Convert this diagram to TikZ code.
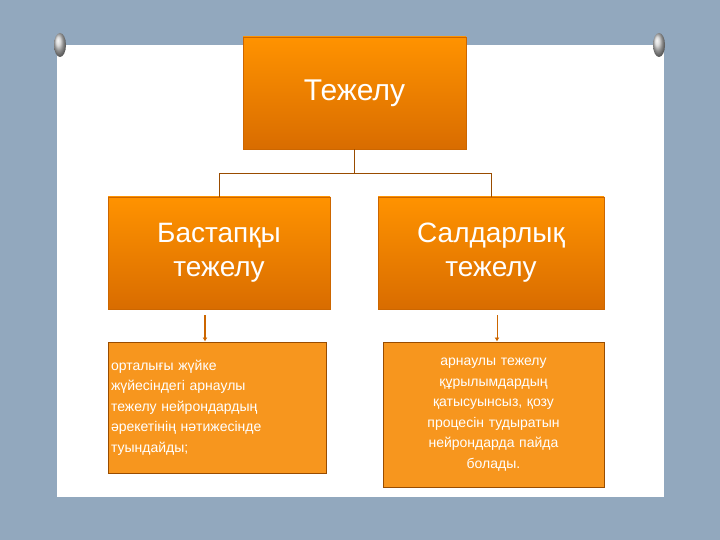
\documentclass[tikz,border=0pt]{standalone}
\usepackage{fontspec}
\setmainfont{Liberation Sans}
\usetikzlibrary{arrows.meta}
\definecolor{bgblue}{RGB}{146,168,190}
\definecolor{boxor}{RGB}{247,150,30}
\begin{document}
\begin{tikzpicture}[x=1pt,y=-1pt,
  obox/.style={draw=orange!80!black,line width=0.6pt,top color=orange!85!yellow,bottom color=orange!85!black,text=white,align=center,inner sep=0pt},
  sbox/.style={draw=orange!60!black,line width=1pt,fill=boxor,text=white,inner sep=0pt,font=\fontsize{14}{20.5}\selectfont},
  conn/.style={draw=orange!60!black,line width=0.6pt},
  arr/.style={draw=orange!80!black,line width=1.8pt,-{Latex[length=4pt,width=5pt]}}]
\useasboundingbox (0,0) rectangle (720,540);
\fill[bgblue] (0,0) rectangle (720,540);
\fill[white] (57,45) rectangle (664,497);
\foreach \px in {60,659}{\shade[ball color=gray!40] (\px,45) ellipse (6 and 12);}
\node[obox,minimum width=223,minimum height=112,font=\fontsize{30}{34}\selectfont] (top) at (354.5,93) {Тежелу};
\node[obox,minimum width=222,minimum height=112,font=\fontsize{28}{34}\selectfont] (l) at (219,253) {Бастапқы\\тежелу};
\node[obox,minimum width=226,minimum height=112,font=\fontsize{28}{34}\selectfont] (r) at (491,253) {Салдарлық\\тежелу};
\coordinate (j) at (354.5,173);
\draw[conn] (top.south) -- (j) -| (l.north);
\draw[conn] (j) -| (r.north);
\node[sbox,minimum width=218,minimum height=131,align=left,text width=212] (bl) at (217,407.5) {орталығы жүйке\\жүйесіндегі арнаулы\\тежелу нейрондардың\\әрекетінің нәтижесінде\\туындайды;};
\node[sbox,minimum width=221,minimum height=145,align=center,text width=215] (br) at (493.5,414.5) {арнаулы тежелу\\құрылымдардың\\қатысуынсыз, қозу\\процесін тудыратын\\нейрондарда пайда\\болады.};
\coordinate (a1) at (205,315);
\coordinate (a2) at (497,315);
\draw[arr] (a1) -- (a1 |- bl.north);
\draw[arr,line width=1pt] (a2) -- (a2 |- br.north);
\end{tikzpicture}
\end{document}
